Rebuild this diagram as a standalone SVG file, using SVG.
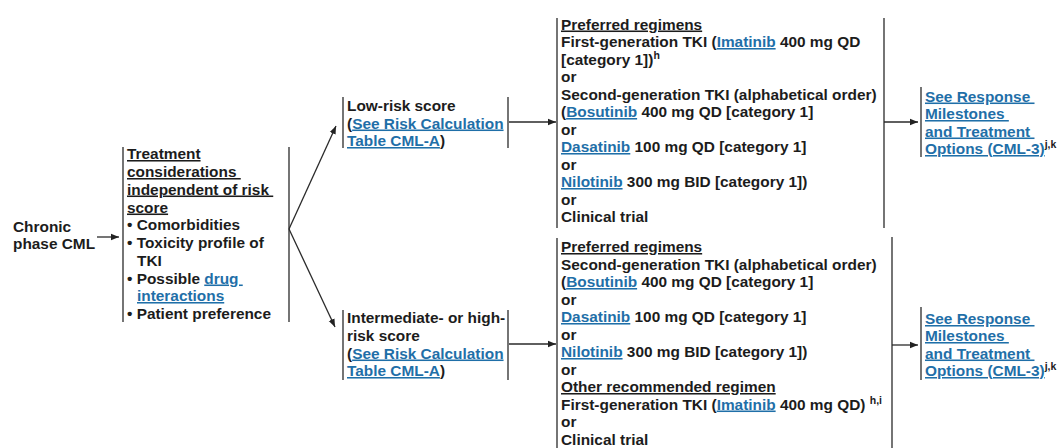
<svg xmlns="http://www.w3.org/2000/svg" width="1060" height="448" viewBox="0 0 1060 448">
<defs>
<marker id="ah" viewBox="0 0 10 10" refX="10" refY="5" markerWidth="8" markerHeight="8" markerUnits="userSpaceOnUse" orient="auto"><path d="M0,1 L10,5 L0,9 Z" fill="#222"/></marker>
<style>
text{font-family:"Liberation Sans",Arial,sans-serif;font-weight:bold;font-size:15.4px;fill:#1c1c1c}
.u{text-decoration:underline}
.l{fill:#1f6fa8;text-decoration:underline}
.sup{font-size:10.5px}
.bar{stroke:#2a2a2a;stroke-width:1.3;fill:none}
.c{stroke:#2a2a2a;stroke-width:1.3;fill:none;marker-end:url(#ah)}
</style>
</defs>
<rect width="1060" height="448" fill="#fff"/>
<g id="connectors">
<line class="c" x1="97" y1="237" x2="119" y2="237"/>
<line class="c" x1="289" y1="229" x2="336" y2="126"/>
<line class="c" x1="289" y1="229" x2="335" y2="327"/>
<line class="c" x1="509" y1="122" x2="556" y2="122"/>
<line class="c" x1="509" y1="344" x2="556" y2="344"/>
<line class="c" x1="884" y1="122" x2="918" y2="122"/>
<line class="c" x1="892" y1="345" x2="918" y2="345"/>
</g>
<g id="start">
<text x="13" y="232">Chronic</text>
<text x="13" y="249">phase CML</text>
</g>
<g id="considerations">
<line class="bar" x1="123" y1="147" x2="123" y2="322"/>
<line class="bar" x1="289" y1="147" x2="289" y2="322"/>
<text x="127" y="159" class="u">Treatment</text>
<text x="127" y="177" class="u" xml:space="preserve">considerations </text>
<text x="127" y="194.5" class="u" xml:space="preserve">independent of risk </text>
<text x="127" y="212.5" class="u">score</text>
<text x="127" y="230">• Comorbidities</text>
<text x="127" y="248">• Toxicity profile of</text>
<text x="137" y="265.5">TKI</text>
<text x="127" y="283.5" xml:space="preserve">• Possible <tspan class="l">drug </tspan></text>
<text x="137" y="301" class="l">interactions</text>
<text x="127" y="319">• Patient preference</text>
</g>
<g id="low-risk">
<line class="bar" x1="343" y1="97" x2="343" y2="148"/>
<line class="bar" x1="508" y1="97" x2="508" y2="148"/>
<text x="347" y="111">Low-risk score</text>
<text x="347" y="128.5">(<tspan class="l">See Risk Calculation</tspan></text>
<text x="347" y="146"><tspan class="l">Table CML-A</tspan>)</text>
</g>
<g id="high-risk">
<line class="bar" x1="343" y1="310" x2="343" y2="380"/>
<line class="bar" x1="508" y1="310" x2="508" y2="380"/>
<text x="347" y="323">Intermediate- or high-</text>
<text x="347" y="341">risk score</text>
<text x="347" y="358.5">(<tspan class="l">See Risk Calculation</tspan></text>
<text x="347" y="376"><tspan class="l">Table CML-A</tspan>)</text>
</g>
<g id="low-regimens">
<line class="bar" x1="557" y1="18" x2="557" y2="228"/>
<line class="bar" x1="884" y1="18" x2="884" y2="228"/>
<text x="561" y="29.5" class="u">Preferred regimens</text>
<text x="561" y="47">First-generation TKI (<tspan class="l">Imatinib</tspan> 400 mg QD</text>
<text x="561" y="64.5">[category 1])<tspan class="sup" dy="-6">h</tspan></text>
<text x="561" y="82">or</text>
<text x="561" y="99.5">Second-generation TKI (alphabetical order)</text>
<text x="561" y="117">(<tspan class="l">Bosutinib</tspan> 400 mg QD [category 1]</text>
<text x="561" y="134.5">or</text>
<text x="561" y="152"><tspan class="l">Dasatinib</tspan> 100 mg QD [category 1]</text>
<text x="561" y="169.5">or</text>
<text x="561" y="187"><tspan class="l">Nilotinib</tspan> 300 mg BID [category 1])</text>
<text x="561" y="204.5">or</text>
<text x="561" y="222">Clinical trial</text>
</g>
<g id="high-regimens">
<line class="bar" x1="557" y1="238" x2="557" y2="448"/>
<line class="bar" x1="892" y1="237" x2="892" y2="448"/>
<text x="561" y="252" class="u">Preferred regimens</text>
<text x="561" y="269.5">Second-generation TKI (alphabetical order)</text>
<text x="561" y="287">(<tspan class="l">Bosutinib</tspan> 400 mg QD [category 1]</text>
<text x="561" y="304.5">or</text>
<text x="561" y="322"><tspan class="l">Dasatinib</tspan> 100 mg QD [category 1]</text>
<text x="561" y="339.5">or</text>
<text x="561" y="357"><tspan class="l">Nilotinib</tspan> 300 mg BID [category 1])</text>
<text x="561" y="374.5">or</text>
<text x="561" y="392" class="u">Other recommended regimen</text>
<text x="561" y="409.5" xml:space="preserve">First-generation TKI (<tspan class="l">Imatinib</tspan> 400 mg QD) <tspan class="sup" dy="-6">h,i</tspan></text>
<text x="561" y="427">or</text>
<text x="561" y="444.5">Clinical trial</text>
</g>
<g id="response-low">
<line class="bar" x1="921" y1="87" x2="921" y2="157"/>
<text x="925" y="101.5" class="l" xml:space="preserve">See Response </text>
<text x="925" y="119" class="l" xml:space="preserve">Milestones </text>
<text x="925" y="136.5" class="l" xml:space="preserve">and Treatment </text>
<text x="925" y="154"><tspan class="l">Options (CML-3)</tspan><tspan class="sup" dy="-6">j,k</tspan></text>
</g>
<g id="response-high">
<line class="bar" x1="921" y1="307" x2="921" y2="380"/>
<text x="925" y="324" class="l" xml:space="preserve">See Response </text>
<text x="925" y="341" class="l" xml:space="preserve">Milestones </text>
<text x="925" y="358.5" class="l" xml:space="preserve">and Treatment </text>
<text x="925" y="376"><tspan class="l">Options (CML-3)</tspan><tspan class="sup" dy="-6">j,k</tspan></text>
</g>
</svg>
